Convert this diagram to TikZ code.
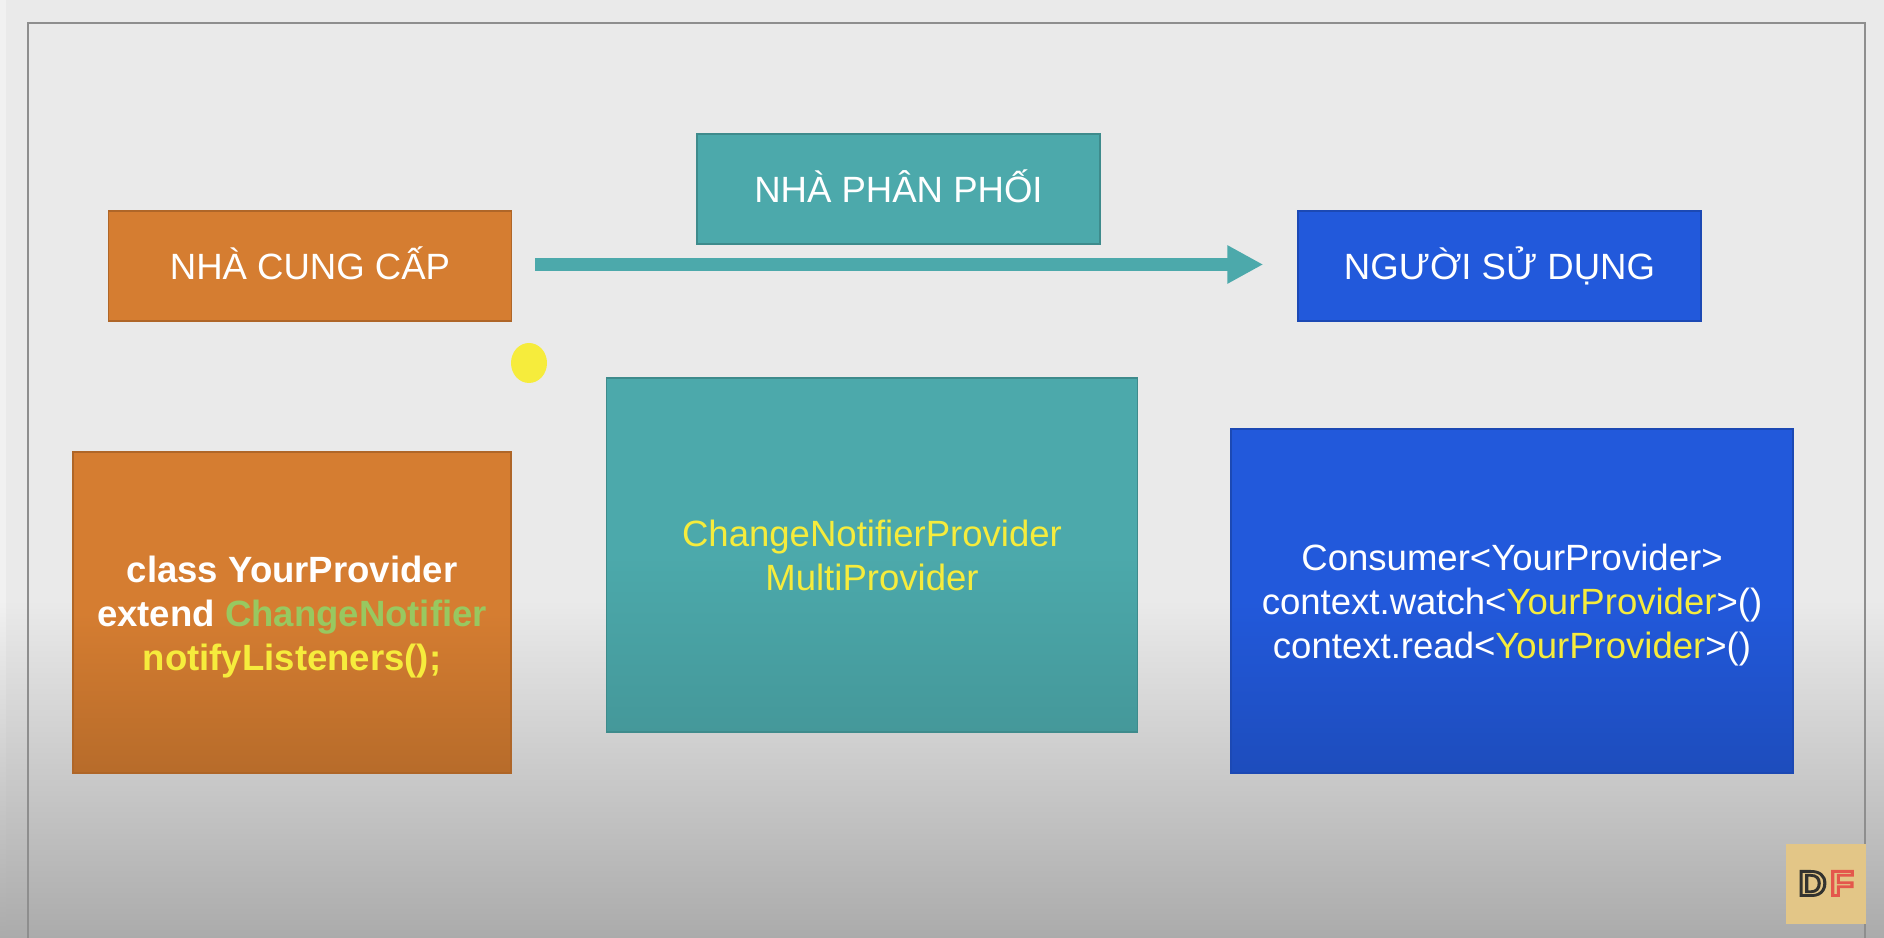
\documentclass[tikz,border=0pt]{standalone}
\usepackage{fontspec}
\setmainfont{Liberation Sans}
\usetikzlibrary{arrows.meta,shapes.geometric}
\definecolor{slidegray}{HTML}{EAEAEA}
\definecolor{stripgray}{HTML}{F1F1F1}
\definecolor{dimgray}{HTML}{ABABAB}
\definecolor{framegray}{HTML}{8E8E8E}
\definecolor{cungorange}{HTML}{D57D31}
\definecolor{phanteal}{HTML}{4CA9AB}
\definecolor{dungblue}{HTML}{2259DB}
\definecolor{codeyellow}{HTML}{F6EC3C}
\definecolor{codegreen}{HTML}{98C860}
\definecolor{logotan}{HTML}{E3C687}
\definecolor{logored}{HTML}{E4574C}
\definecolor{logodark}{HTML}{33332F}
\begin{document}
\begin{tikzpicture}
[
titlebox/.style={draw=#1!82!black, fill=#1, text=white, line width=0.15mm, inner sep=0, font=\fontsize{10.4}{12.5}\selectfont, text height=7.45pt, text depth=0pt, minimum width=4.03cm, minimum height=1.10cm},
codebox/.style n args={2}{draw=#1!82!black, shade, top color=#1, bottom color=#1!#2!black, middle color=#1, line width=0.15mm, text=white, inner sep=0, align=center, font=\fontsize{10.4}{12.5}\selectfont},
logotext/.style={font=\fontsize{10}{10}\selectfont\bfseries, inner sep=0, xscale=1.1},
flowarrow/.style={draw=phanteal, line width=1.35mm, -{Triangle[length=3.6mm, width=3.6mm]}}
]
\useasboundingbox (0,0) rectangle (18.84,9.38);
%Backdrop
\fill[slidegray] (0,0) rectangle (18.84,9.38);
\shade[top color=slidegray, bottom color=dimgray] (0,0) rectangle (18.84,3.38);
\fill[stripgray] (0,3.38) rectangle (0.06,9.38);
\shade[top color=stripgray, bottom color=dimgray] (0,0) rectangle (0.06,3.38);
\draw[framegray, line width=0.25mm] (0.28,-0.1) -- (0.28,9.15) -- (18.65,9.15) -- (18.65,-0.1);
%Nodes
\node[titlebox=cungorange] at(3.10,6.72)	(cung) {NHÀ CUNG CẤP};
\node[titlebox=phanteal] at(8.985,7.49)		(phan) {NHÀ PHÂN PHỐI};
\node[titlebox=dungblue] at(14.995,6.72)	(dung) {NGƯỜI SỬ DỤNG};
\node[codebox={cungorange}{86}, minimum width=4.38cm, minimum height=3.21cm, font=\fontsize{10.4}{12.5}\selectfont\bfseries] at(2.92,3.255) (cungcode) {\rule{0pt}{9.9pt}class YourProvider\\extend \textcolor{codegreen}{ChangeNotifier}\\\textcolor{codeyellow}{notifyListeners();}};
\node[codebox={phanteal}{90}, minimum width=5.31cm, minimum height=3.54cm, text=codeyellow] at(8.72,3.83) (phancode) {ChangeNotifierProvider\\MultiProvider};
\node[codebox={dungblue}{86}, minimum width=5.62cm, minimum height=3.44cm] at(15.12,3.37) (dungcode) {\rule{0pt}{9.6pt}Consumer<YourProvider>\\context.watch<\textcolor{codeyellow}{YourProvider}>()\\context.read<\textcolor{codeyellow}{YourProvider}>()};
\node[fill=codeyellow, ellipse, minimum width=0.36cm, minimum height=0.4cm, inner sep=0] at(5.29,5.75) (dot) {};
\node[fill=logotan, minimum size=0.8cm, inner sep=0] at(18.26,0.54) (logo) {};
\node[logotext, text=logodark] at(18.125,0.545) (logod) {\special{pdf:code 1 Tr 0.8 w}D\special{pdf:code 0 Tr}};
\node[logotext, text=logored] at(18.42,0.545) (logof) {\special{pdf:code 1 Tr 0.8 w}F\special{pdf:code 0 Tr}};
%Connector
\draw[flowarrow] ([xshift=2.3mm,yshift=0.15mm]cung.east) -- ([xshift=-3.4mm,yshift=0.15mm]dung.west);
\end{tikzpicture}
\end{document}
